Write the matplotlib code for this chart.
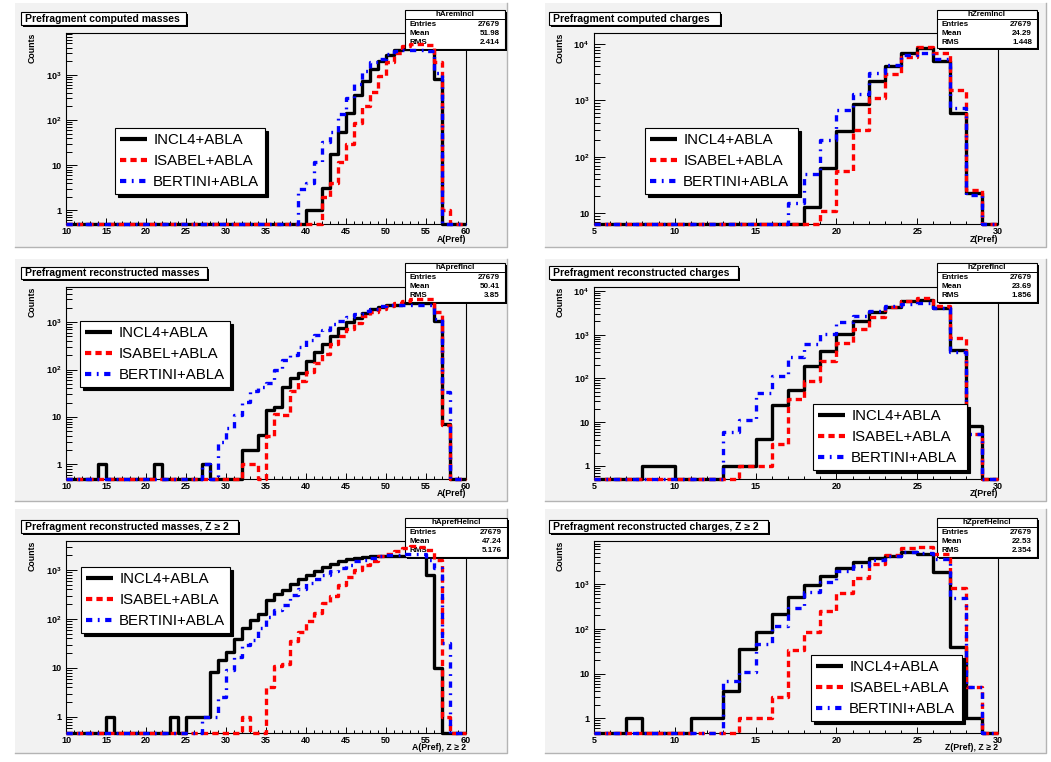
import numpy as np
import matplotlib
matplotlib.use("Agg")
import matplotlib.pyplot as plt
from matplotlib.lines import Line2D
from matplotlib.patches import Rectangle
from matplotlib.ticker import FixedLocator, FuncFormatter, LogLocator, MultipleLocator, NullFormatter
from matplotlib.transforms import Affine2D

W, H = 1051, 762

plt.rcParams["font.family"] = ["Liberation Sans", "DejaVu Sans"]
plt.rcParams["font.weight"] = "bold"
plt.rcParams["mathtext.fontset"] = "custom"
plt.rcParams["mathtext.rm"] = "Liberation Sans:bold"
plt.rcParams["mathtext.it"] = "Liberation Sans:bold"
plt.rcParams["mathtext.bf"] = "Liberation Sans:bold"
plt.rcParams["lines.scale_dashes"] = False

MODELS = ["INCL4+ABLA", "ISABEL+ABLA", "BERTINI+ABLA"]
ENTRIES = "27679"

A_EDGES = np.arange(10, 61)   # mass bins 10..59
Z_EDGES = np.arange(5, 31)    # charge bins 5..29

# computed prefragment masses
A_REM_INCL = [
    0, 0, 0, 0, 0, 0, 0, 0, 0, 0,
    0, 0, 0, 0, 0, 0, 0, 0, 0, 0,
    0, 0, 0, 0, 0, 0, 0, 0, 0, 0,
    1, 1, 3.2, 18, 55, 145, 360, 720, 1320, 2050,
    2750, 3550, 3800, 4000, 4000, 3850, 790, 0, 0, 0,
]
A_REM_ISABEL = [
    0, 0, 0, 0, 0, 0, 0, 0, 0, 0,
    0, 0, 0, 0, 0, 0, 0, 0, 0, 0,
    0, 0, 0, 0, 0, 0, 0, 0, 0, 0,
    0, 0, 2, 4, 12, 29, 85, 200, 420, 940,
    1950, 3000, 4300, 4800, 4800, 4600, 1900, 1, 0, 0,
]
A_REM_BERTINI = [
    0, 0, 0, 0, 0, 0, 0, 0, 0, 0,
    0, 0, 0, 0, 0, 0, 0, 0, 0, 0,
    0, 0, 0, 0, 0, 0, 0, 0, 0, 3,
    4, 12, 33, 55, 135, 300, 620, 1200, 1900, 2300,
    2900, 3400, 3500, 3600, 3600, 3400, 1100, 0, 0, 0,
]

# computed prefragment charges
Z_REM_INCL = [
    0, 0, 0, 0, 0, 0, 0, 0, 0, 0,
    0, 0, 0, 13, 63, 290, 870, 2200, 4150, 6900,
    8400, 5100, 590, 23, 0,
]
Z_REM_ISABEL = [
    0, 0, 0, 0, 0, 0, 0, 0, 0, 0,
    0, 0, 0, 0, 11, 55, 300, 1100, 3000, 6000,
    8900, 7000, 1550, 26, 0,
]
Z_REM_BERTINI = [
    0, 0, 0, 0, 0, 0, 0, 0, 0, 0,
    0, 0, 15, 50, 200, 680, 1300, 3100, 4200, 6300,
    6800, 5500, 720, 21, 0,
]

# reconstructed prefragment masses
A_PREF_INCL = [
    0, 0, 0, 0, 1, 0, 0, 0, 0, 0,
    0, 1, 0, 0, 0, 0, 0, 1, 0, 0,
    0, 0, 2, 2, 4.2, 14, 16, 43, 66, 86,
    150, 235, 350, 520, 750, 1000, 1230, 1580, 1850, 2050,
    2250, 2350, 2500, 2500, 2500, 2500, 1080, 7, 0, 0,
]
A_PREF_ISABEL = [
    0, 0, 0, 0, 0, 0, 0, 0, 0, 0,
    0, 0, 0, 0, 0, 0, 0, 0, 0, 0,
    0, 0, 1, 1, 0, 4, 11.6, 11, 36, 58,
    90, 140, 212, 345, 515, 715, 980, 1320, 1660, 1870,
    2200, 2500, 2800, 3000, 3000, 3000, 1600, 6.6, 0, 0,
]
A_PREF_BERTINI = [
    0, 0, 0, 0, 0, 0, 0, 0, 0, 0,
    0, 0, 0, 0, 0, 0, 0, 1, 0, 3,
    5.7, 11, 21, 36, 43, 52, 96, 156, 200, 300,
    410, 525, 670, 920, 1080, 1270, 1490, 1750, 1900, 2180,
    2250, 2250, 2250, 2250, 2250, 2250, 1170, 33, 0, 0,
]

# reconstructed prefragment charges
Z_PREF_INCL = [
    0, 0, 0, 1, 1, 0, 0, 0, 1, 1,
    4.2, 24, 54, 195, 430, 1020, 2000, 3240, 4400, 6000,
    6200, 4000, 445, 8, 0,
]
Z_PREF_ISABEL = [
    0, 0, 0, 0, 0, 0, 0, 0, 0, 1,
    1, 3.1, 34, 87, 250, 630, 1350, 2600, 4400, 5900,
    6800, 4600, 820, 5.4, 0,
]
Z_PREF_BERTINI = [
    0, 0, 0, 0, 0, 0, 0, 0, 6, 11,
    46, 115, 310, 610, 1030, 1950, 2640, 3400, 4550, 5100,
    5300, 4000, 410, 5.4, 0,
]

# reconstructed prefragment masses, Z >= 2
A_PREFHE_INCL = [
    0, 0, 0, 0, 0, 1, 0, 0, 0, 0,
    0, 0, 0, 1, 0, 1, 1, 1, 8.4, 14.5,
    21, 39, 65, 96, 125, 245, 320, 395, 520, 665,
    800, 940, 1140, 1350, 1550, 1690, 1770, 1850, 1900, 1950,
    1950, 1950, 1950, 1950, 1950, 800, 10, 0, 0, 0,
]
A_PREFHE_ISABEL = [
    0, 0, 0, 0, 0, 0, 0, 0, 0, 0,
    0, 0, 0, 0, 0, 0, 0, 0, 0, 0,
    0, 0, 1, 0, 0, 4, 11, 12, 35, 55,
    89, 132, 210, 300, 500, 710, 1020, 1290, 1510, 1900,
    2100, 2400, 2840, 3070, 3000, 2600, 1600, 1, 0, 0,
]
A_PREFHE_BERTINI = [
    0, 0, 0, 0, 0, 0, 0, 0, 0, 0,
    0, 0, 0, 0, 0, 0, 0, 1, 1, 2.6,
    9, 17, 30, 37, 65, 112, 154, 195, 310, 400,
    540, 665, 800, 940, 1100, 1290, 1500, 1630, 1780, 1900,
    2000, 2050, 2100, 2100, 2100, 1630, 1100, 32, 0, 0,
]

# reconstructed prefragment charges, Z >= 2
Z_PREFHE_INCL = [
    0, 0, 1, 0, 0, 0, 1, 1, 4, 35,
    83, 220, 505, 950, 1540, 2300, 3160, 3740, 4300, 5100,
    4700, 1900, 40, 1, 0,
]
Z_PREFHE_ISABEL = [
    0, 0, 0, 0, 0, 0, 0, 0, 0, 1,
    1, 3, 33, 86, 245, 620, 1400, 2760, 4500, 6300,
    6800, 4600, 830, 5, 0,
]
Z_PREFHE_BERTINI = [
    0, 0, 0, 0, 0, 0, 0, 0, 7, 11,
    46, 115, 300, 650, 1100, 2000, 2550, 3500, 4300, 5200,
    4900, 3600, 480, 5, 0,
]

PAD_GRAY = "#f2f2f2"

STYLES = [
    dict(color="black", lw=2.4, linestyle="-", zorder=2),
    dict(color="#ff0000", lw=2.4, linestyle=(0, (4.5, 3.0)), zorder=4),
    dict(color="#0000ff", lw=2.4, linestyle=(0, (4.5, 4.0, 1.3, 4.0)), zorder=5),
]

# pixel boxes: pad, frame, title, stats, legend  (x0, y0, x1, y1), y downwards
PANELS = [
    dict(title="Prefragment computed masses", hname="hAremIncl", mean="51.98", rms="2.414",
         xlabel="A(Pref)", edges=A_EDGES, series=(A_REM_INCL, A_REM_ISABEL, A_REM_BERTINI),
         ylim=(0.5, 8450),
         pad=(15, 3, 507, 247), frame=(66, 33, 466, 224), tbox=(21, 12, 186, 25),
         sbox=(405, 10, 505, 49), lbox=(115, 128, 265, 200)),
    dict(title="Prefragment computed charges", hname="hZremIncl", mean="24.29", rms="1.448",
         xlabel="Z(Pref)", edges=Z_EDGES, series=(Z_REM_INCL, Z_REM_ISABEL, Z_REM_BERTINI),
         ylim=(6.45, 15700),
         pad=(545, 3, 1046, 247), frame=(594, 33, 998, 224), tbox=(549, 12, 720, 25),
         sbox=(937, 10, 1037, 48), lbox=(645, 128, 798, 202)),
    dict(title="Prefragment reconstructed masses", hname="hAprefIncl", mean="50.41", rms="3.85",
         xlabel="A(Pref)", edges=A_EDGES, series=(A_PREF_INCL, A_PREF_ISABEL, A_PREF_BERTINI),
         ylim=(0.49, 5500),
         pad=(15, 259, 507, 501), frame=(66, 287, 466, 479), tbox=(21, 267, 207, 279),
         sbox=(405, 263, 505, 302), lbox=(80, 321, 230, 392)),
    dict(title="Prefragment reconstructed charges", hname="hZprefIncl", mean="23.69", rms="1.856",
         xlabel="Z(Pref)", edges=Z_EDGES, series=(Z_PREF_INCL, Z_PREF_ISABEL, Z_PREF_BERTINI),
         ylim=(0.5, 12300),
         pad=(545, 259, 1046, 501), frame=(594, 287, 998, 479), tbox=(549, 266, 738, 279),
         sbox=(937, 263, 1037, 302), lbox=(813, 404, 967, 475)),
    dict(title="Prefragment reconstructed masses, Z \u2265 2", hname="hAprefHeIncl", mean="47.24",
         rms="5.176", xlabel="A(Pref), Z \u2265 2", edges=A_EDGES,
         series=(A_PREFHE_INCL, A_PREFHE_ISABEL, A_PREFHE_BERTINI),
         ylim=(0.47, 3900),
         pad=(15, 509, 507, 753), frame=(66, 541, 466, 733), tbox=(21, 520, 238, 533),
         sbox=(405, 518, 507, 557), lbox=(81, 567, 230, 638)),
    dict(title="Prefragment reconstructed charges, Z \u2265 2", hname="hZprefHeIncl", mean="22.53",
         rms="2.354", xlabel="Z(Pref), Z \u2265 2", edges=Z_EDGES,
         series=(Z_PREFHE_INCL, Z_PREFHE_ISABEL, Z_PREFHE_BERTINI),
         ylim=(0.47, 9200),
         pad=(545, 509, 1046, 753), frame=(594, 541, 998, 733), tbox=(549, 520, 768, 533),
         sbox=(937, 518, 1037, 557), lbox=(811, 655, 962, 725)),
]


def pow_label(v, pos):
    e = int(round(np.log10(v)))
    if e == 0:
        return "1"
    if e == 1:
        return "10"
    return r"$10^{%d}$" % e


def shadow_box(ax, box, z, px):
    x0, y0, x1, y1 = box
    ax.add_patch(Rectangle((x0 + 2, y0 + 2), x1 - x0, y1 - y0, transform=px,
                           fc="black", ec="none", clip_on=False, zorder=z))
    ax.add_patch(Rectangle((x0, y0), x1 - x0, y1 - y0, transform=px,
                           fc="white", ec="black", lw=0.8, clip_on=False, zorder=z + 0.01))


fig = plt.figure(figsize=(W / 100, H / 100), dpi=100)
fig.patch.set_facecolor("white")
PX = Affine2D().scale(1 / W, -1 / H).translate(0, 1) + fig.transFigure

for p in PANELS:
    x0, y0, x1, y1 = p["pad"]
    fig.add_artist(Rectangle((x0, y0), x1 - x0, y1 - y0, transform=PX,
                             fc=PAD_GRAY, ec="none", zorder=-2))
    fig.add_artist(Line2D([x0, x1, x1], [y1, y1, y0], transform=PX,
                          color="#b4b4b4", lw=1.0, zorder=-1))

    fx0, fy0, fx1, fy1 = p["frame"]
    ax = fig.add_axes([fx0 / W, 1 - fy1 / H, (fx1 - fx0) / W, (fy1 - fy0) / H])
    ax.set_facecolor("none")
    ax.set_yscale("log")
    edges = p["edges"]
    ymin, ymax = p["ylim"]
    ax.set_xlim(edges[0], edges[-1])
    ax.set_ylim(ymin, ymax)
    for s in ax.spines.values():
        s.set_linewidth(0.8)

    handles = []
    for vals, st in zip(p["series"], STYLES):
        v = np.asarray(vals, dtype=float)
        v = np.where(v > 0, v, ymin)  # empty bins sit on the frame floor
        (ln,) = ax.step(edges, np.append(v, v[-1]), where="post", clip_on=False,
                        solid_capstyle="butt", dash_capstyle="butt", **st)
        handles.append(ln)

    decades = [10.0 ** e for e in range(-1, 6) if ymin <= 10.0 ** e <= ymax]
    ax.yaxis.set_major_locator(FixedLocator(decades))
    ax.yaxis.set_major_formatter(FuncFormatter(pow_label))
    ax.yaxis.set_minor_locator(LogLocator(base=10, subs=np.arange(2, 10)))
    ax.yaxis.set_minor_formatter(NullFormatter())
    ax.xaxis.set_major_locator(MultipleLocator(5))
    ax.xaxis.set_minor_locator(MultipleLocator(1))
    ax.tick_params(which="both", direction="in", top=False, right=False,
                   labelsize=6.5, width=0.7)
    ax.tick_params(axis="y", which="major", length=8, pad=3.5)
    ax.tick_params(axis="y", which="minor", length=4.5)
    ax.tick_params(axis="x", which="major", length=4.5, pad=2.5)
    ax.tick_params(axis="x", which="minor", length=2.2)

    ax.text(fx0 - 34, fy0, "Counts", transform=PX, rotation=90, ha="center", va="top",
            fontsize=6.3, clip_on=False)
    ax.text(fx1, fy1 + 15, p["xlabel"], transform=PX, ha="right", va="center",
            fontsize=6.3, clip_on=False)

    # statistics box
    sx0, sy0, sx1, sy1 = p["sbox"]
    shadow_box(ax, p["sbox"], 3, PX)
    ax.add_line(Line2D([sx0, sx1], [sy0 + 9, sy0 + 9], transform=PX, color="black",
                       lw=0.7, clip_on=False, zorder=3.1))
    ax.text((sx0 + sx1) / 2, sy0 + 4.7, p["hname"], transform=PX, ha="center", va="center",
            fontsize=5.8, clip_on=False, zorder=3.2)
    for k, (name, val) in enumerate([("Entries", ENTRIES), ("Mean", p["mean"]), ("RMS", p["rms"])]):
        yy = sy0 + 14.2 + 9.3 * k
        ax.text(sx0 + 5, yy, name, transform=PX, ha="left", va="center",
                fontsize=5.8, clip_on=False, zorder=3.2)
        ax.text(sx1 - 5, yy, val, transform=PX, ha="right", va="center",
                fontsize=5.8, clip_on=False, zorder=3.2)

    # title box
    shadow_box(ax, p["tbox"], 11, PX)
    tx0, ty0, tx1, ty1 = p["tbox"]
    ax.text(tx0 + 4, (ty0 + ty1) / 2 + 0.5, p["title"], transform=PX, ha="left", va="center",
            fontsize=7.5, clip_on=False, zorder=12)

    lx0, ly0, lx1, ly1 = p["lbox"]
    leg = ax.legend(handles, MODELS, loc="upper left", mode="expand",
                    bbox_to_anchor=(lx0 / W, 1 - ly1 / H, (lx1 - lx0) / W, (ly1 - ly0) / H),
                    bbox_transform=fig.transFigure, borderaxespad=0,
                    prop={"family": "Liberation Sans", "size": 10.8, "weight": "normal"},
                    handlelength=1.75, handletextpad=0.45, borderpad=0.35, labelspacing=0.45,
                    fancybox=False, shadow={"color": "black", "alpha": 1},
                    framealpha=1, edgecolor="black", facecolor="white")
    leg.get_frame().set_linewidth(0.8)
    for h in leg.get_lines():
        h.set_linewidth(3.0)
    leg.set_zorder(10)

fig.savefig("out.png", dpi=100)
